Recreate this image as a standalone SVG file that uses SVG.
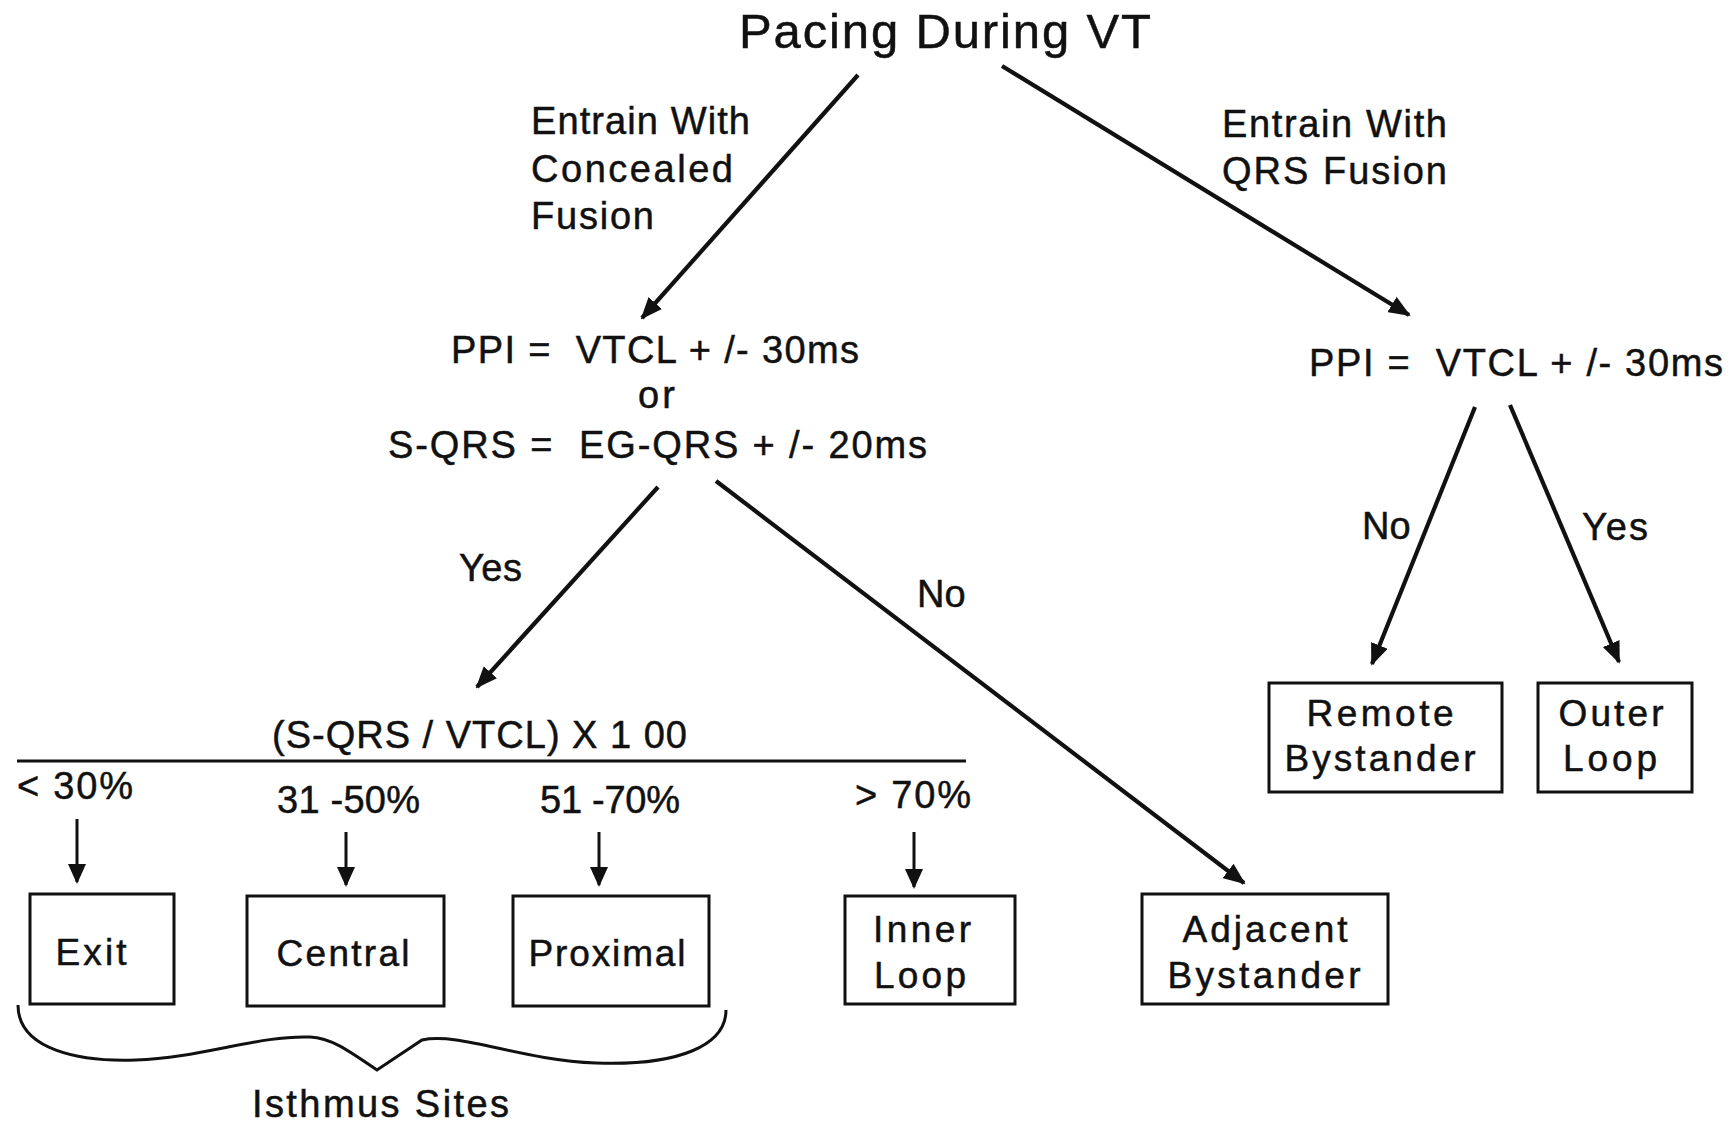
<svg xmlns="http://www.w3.org/2000/svg" width="1735" height="1122" viewBox="0 0 1735 1122">
<defs>
<style>
text{font-family:"Liberation Sans",Arial,sans-serif;fill:#111;stroke:#111;stroke-width:0.5;}
.t{font-size:49px;}
.m{font-size:38px;}
.b{font-size:37px;text-anchor:middle;}
.box{fill:#fff;stroke:#111;stroke-width:3;}
.ln{stroke:#111;stroke-width:4.2;fill:none;}
.sl{stroke:#111;stroke-width:3;fill:none;}
</style>
<marker id="ah" viewBox="0 0 22 18" refX="20" refY="9" markerWidth="22" markerHeight="18" markerUnits="userSpaceOnUse" orient="auto">
<path d="M0,0 L22,9 L0,18 z" fill="#111"/>
</marker>
<marker id="ahs" viewBox="0 0 20 18" refX="18" refY="9" markerWidth="20" markerHeight="18" markerUnits="userSpaceOnUse" orient="auto">
<path d="M0,0 L20,9 L0,18 z" fill="#111"/>
</marker>
</defs>
<rect width="1735" height="1122" fill="#fff"/>

<g id="title"><text class="t" x="739" y="48" textLength="412" lengthAdjust="spacing">Pacing During VT</text></g>

<g id="labels">
<text class="m" x="531" y="134" textLength="219" lengthAdjust="spacing">Entrain With</text>
<text class="m" x="531" y="182" textLength="202" lengthAdjust="spacing">Concealed</text>
<text class="m" x="531" y="229" textLength="123" lengthAdjust="spacing">Fusion</text>
<text class="m" x="1222" y="137" textLength="225" lengthAdjust="spacing">Entrain With</text>
<text class="m" x="1222" y="184" textLength="225" lengthAdjust="spacing">QRS Fusion</text>
<text class="m" x="459" y="581" textLength="63" lengthAdjust="spacing">Yes</text>
<text class="m" x="917" y="607">No</text>
<text class="m" x="1362" y="539">No</text>
<text class="m" x="1582" y="540" textLength="66" lengthAdjust="spacing">Yes</text>
</g>

<g id="criteria-left">
<text class="m" x="451" y="363" textLength="408" lengthAdjust="spacing">PPI =&#160; VTCL + /- 30ms</text>
<text class="m" x="638" y="408" textLength="37" lengthAdjust="spacing">or</text>
<text class="m" x="388" y="458" textLength="539" lengthAdjust="spacing">S-QRS =&#160; EG-QRS + /- 20ms</text>
</g>

<g id="criteria-right">
<text class="m" x="1309" y="376" textLength="414" lengthAdjust="spacing">PPI =&#160; VTCL + /- 30ms</text>
</g>

<g id="ratio">
<text class="m" x="272" y="748" textLength="415" lengthAdjust="spacing">(S-QRS / VTCL) X 1 00</text>
<line class="sl" x1="17" y1="761" x2="966" y2="761"/>
<text class="m" x="17" y="799" textLength="116" lengthAdjust="spacing">&lt; 30%</text>
<text class="m" x="277" y="813" textLength="143" lengthAdjust="spacing">31 -50%</text>
<text class="m" x="540" y="813" textLength="140" lengthAdjust="spacing">51 -70%</text>
<text class="m" x="855" y="808" textLength="116" lengthAdjust="spacing">&gt; 70%</text>
</g>

<g id="exit"><rect class="box" x="30" y="894" width="144" height="110"/><text class="b" x="91" y="965" textLength="71" lengthAdjust="spacing">Exit</text></g>
<g id="central"><rect class="box" x="247" y="896" width="197" height="110"/><text class="b" x="343" y="966" textLength="133" lengthAdjust="spacing">Central</text></g>
<g id="proximal"><rect class="box" x="513" y="896" width="196" height="110"/><text class="b" x="607" y="966" textLength="157" lengthAdjust="spacing">Proximal</text></g>
<g id="inner-loop"><rect class="box" x="845" y="896" width="170" height="108"/><text class="b" x="922" y="942" textLength="98" lengthAdjust="spacing">Inner</text><text class="b" x="920" y="988" textLength="92" lengthAdjust="spacing">Loop</text></g>
<g id="adjacent-bystander"><rect class="box" x="1142" y="894" width="246" height="110"/><text class="b" x="1265" y="942" textLength="165" lengthAdjust="spacing">Adjacent</text><text class="b" x="1264" y="988" textLength="193" lengthAdjust="spacing">Bystander</text></g>
<g id="remote-bystander"><rect class="box" x="1269" y="683" width="233" height="109"/><text class="b" x="1380" y="726" textLength="147" lengthAdjust="spacing">Remote</text><text class="b" x="1380" y="771" textLength="191" lengthAdjust="spacing">Bystander</text></g>
<g id="outer-loop"><rect class="box" x="1538" y="683" width="154" height="109"/><text class="b" x="1611" y="726" textLength="105" lengthAdjust="spacing">Outer</text><text class="b" x="1610" y="771" textLength="94" lengthAdjust="spacing">Loop</text></g>

<g id="isthmus">
<path class="sl" d="M18,1005 C18,1050 80,1062 136,1060 C200,1058 260,1035 310,1037 C330,1038 345,1048 377,1070 L422,1040 C460,1032 520,1060 596,1063 C680,1066 726,1045 726,1010"/>
<text class="m" x="252" y="1117" textLength="257" lengthAdjust="spacing">Isthmus Sites</text>
</g>

<g id="connectors">
<line class="ln" x1="858" y1="75" x2="642" y2="318" marker-end="url(#ah)"/>
<line class="ln" x1="1002" y1="66" x2="1409" y2="315" marker-end="url(#ah)"/>
<line class="ln" x1="658" y1="487" x2="477" y2="687" marker-end="url(#ah)"/>
<line class="ln" x1="716" y1="481" x2="1244" y2="883" marker-end="url(#ah)"/>
<line class="ln" x1="1475" y1="407" x2="1372" y2="664" marker-end="url(#ah)"/>
<line class="ln" x1="1510" y1="405" x2="1619" y2="662" marker-end="url(#ah)"/>
<line class="sl" x1="77" y1="819" x2="77" y2="882" marker-end="url(#ahs)"/>
<line class="sl" x1="346" y1="832" x2="346" y2="885" marker-end="url(#ahs)"/>
<line class="sl" x1="599" y1="832" x2="599" y2="885" marker-end="url(#ahs)"/>
<line class="sl" x1="914" y1="832" x2="914" y2="887" marker-end="url(#ahs)"/>
</g>
</svg>
